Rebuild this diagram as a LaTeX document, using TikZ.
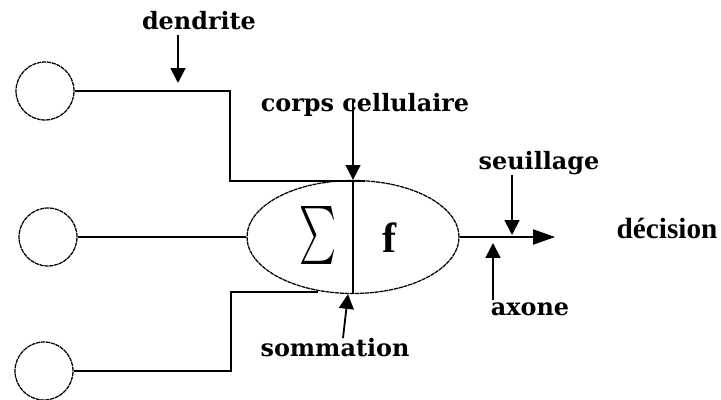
\documentclass[tikz,border=0pt]{standalone}
\usepackage{fontspec}
\setmainfont{Liberation Serif}
\newfontfamily\lblfont{DejaVu Serif}
\usepackage{graphicx}
\usetikzlibrary{arrows.meta,shapes.geometric}
\tikzset{
  input/.style={circle,draw,inner sep=0pt,minimum size=1.45cm,
    line width=.9pt,dash pattern=on 3pt off .5pt},
  soma/.style={ellipse,draw,inner sep=0pt,minimum width=5.3cm,
    minimum height=2.825cm,line width=.9pt,dash pattern=on 3pt off .5pt},
  lbl/.style={font=\lblfont\bfseries\fontsize{17}{20}\selectfont},
  pointer/.style={-{Triangle[length=.37cm,width=.37cm]},line width=1.3pt},
  wire/.style={line width=1pt},
}

\begin{document}
\begin{tikzpicture}
\useasboundingbox (0,0) rectangle (18.025,-10);

%%%%%%%%%%%%%%
% Inputs
%%%%%%%%%%%%%%
  \node[input] (c1) at (1.125,-2.275) {};
  \node[input] (c2) at (1.2,-5.925) {};
  \node[input] (c3) at (1.1,-9.275) {};

%%%%%%%%%%%%%%
% Cell body
%%%%%%%%%%%%%%
  \node[soma] (cell) at (8.825,-5.925) {};
  \draw[wire] (cell.north) -- (cell.south);
  \node (sum) at (7.95,-5.9) {\resizebox*{.925cm}{1.45cm}{$\sum$}};
  \node[font=\bfseries\fontsize{30}{32}\selectfont] (f) at (9.74,-5.94) {f};

  % points
  \coordinate (k1)  at (5.75, -4.525);
  \coordinate (e1)  at (9.125, -4.525);
  \coordinate (k3)  at (5.775, -7.3);
  \coordinate (e3)  at (7.95, -7.3);
  \coordinate (out) at (13.875, -5.925);

  % dendrites
  \draw[wire] (c1.east) -| (k1) -- (e1);
  \draw[wire] (c2.east) -- (cell.west);
  \draw[wire] (c3.east) -| (k3) -- (e3);

  % axon
  \draw[wire,-{Triangle[length=.55cm,width=.38cm]}] (cell.east) -- (out);

%%%%%%%%%%%%%%
% Labels
%%%%%%%%%%%%%%
  \node[lbl] (den) at (4.975, -0.525) {dendrite};
  \node[lbl] (cor) at (9.125, -2.625) {corps cellulaire};
  \node[lbl] (seu) at (13.475, -4.075) {seuillage};
  \node[lbl] (som) at (8.375, -8.7) {sommation};
  \node[lbl] (axo) at (13.25, -7.725) {axone};
  \node[font=\bfseries\fontsize{20.8}{24}\selectfont] (dec) at (16.675, -5.7)
        {décision};

  % pointers
  \coordinate (dt) at (4.45, -0.875);
  \coordinate (dh) at (4.45, -2.075);
  \coordinate (ct) at (8.825, -2.5);
  \coordinate (st) at (8.575, -8.45);
  \coordinate (ut) at (12.8, -4.375);
  \coordinate (uh) at (12.8, -5.875);
  \coordinate (at) at (12.325, -7.5);
  \coordinate (ah) at (12.325, -6.075);

  \draw[pointer] (dt) -- (dh);
  \draw[pointer] (ct) -- (cell.north);
  \draw[pointer] (st) -- (cell.265);
  \draw[pointer] (ut) -- (uh);
  \draw[pointer] (at) -- (ah);

\end{tikzpicture}
\end{document}
